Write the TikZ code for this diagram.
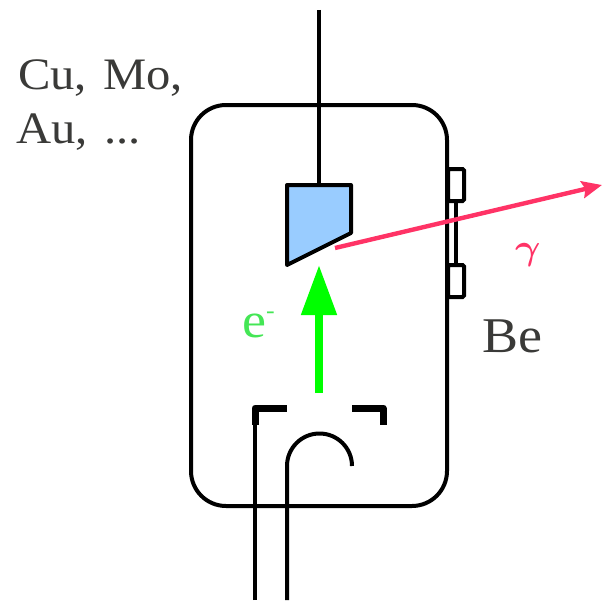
\documentclass[tikz,border=0pt]{standalone}
\usepackage{fontspec}
\setmainfont[FakeStretch=1.08,WordSpace=1.35]{Liberation Serif}
\usetikzlibrary{arrows.meta}
\definecolor{txt}{HTML}{3A3A38}
\definecolor{raypink}{HTML}{FF3366}
\definecolor{elgreen}{HTML}{44E655}
\definecolor{targetblue}{HTML}{99CCFF}
\tikzset{
  x=1pt,y=-1pt,
  wire/.style={draw=black,line width=4pt},
  thickwire/.style={draw=black,line width=7pt,line join=round},
  lab/.style={inner sep=0pt,text=txt,font=\fontsize{45}{52}\selectfont,anchor=base west},
  biglab/.style={inner sep=0pt,font=\fontsize{50}{56}\selectfont,anchor=base west},
}
\begin{document}
\begin{tikzpicture}
\useasboundingbox (0,0) rectangle (602,602);
% tube
\node[wire,rounded corners=35pt,minimum width=256pt,minimum height=401pt,inner sep=0pt,outer sep=0pt,anchor=north west] (tube) at (191,105) {};
% window
\coordinate (wa) at (456,201);
\coordinate (wb) at (456,265);
\draw[wire] (wa) -- (wb);
\node[wire,fill=white,rounded corners=1.5pt,minimum width=16pt,minimum height=32pt,inner sep=0pt,outer sep=0pt,anchor=north west] (tabtop) at (448,169) {};
\node[wire,fill=white,rounded corners=1.5pt,minimum width=16pt,minimum height=32pt,inner sep=0pt,outer sep=0pt,anchor=north west] (tabbot) at (448,265) {};
\draw[wire] (447,150) -- (447,320);
% anode
\coordinate (rodtop) at (319,10);
\coordinate (rodbot) at (319,185);
\draw[wire] (rodtop) -- (rodbot);
\draw[wire,fill=targetblue,line join=round] (287,185) -- (351,185) -- (351,233) -- (287,265) -- cycle;
% electron beam
\coordinate (ebot) at (319,393);
\coordinate (etop) at (319,265);
\draw[draw=green,line width=8pt,-{Triangle[length=50pt,width=34pt,fill=green]}] (ebot) -- (etop);
% cathode
\coordinate (ca) at (255,425);
\coordinate (cb) at (255,408);
\coordinate (cc) at (287,408);
\coordinate (cd) at (352,408);
\coordinate (ce) at (383,408);
\coordinate (cf) at (383,425);
\draw[thickwire] (ca) -- (cb) -- (cc);
\draw[thickwire] (cd) -- (ce) -- (cf);
\coordinate (wl) at (255,600);
\coordinate (wr) at (287,600);
\draw[wire] (wl) -- (ca);
\draw[wire] (wr) -- (287,466) arc[start angle=180,end angle=360,radius=32.5];
% x ray
\coordinate (rs) at (335,248);
\coordinate (re) at (602,185);
\draw[draw=raypink,line width=4.4pt,-{Stealth[length=20pt,width=17pt,inset=3pt,fill=raypink]}] (rs) -- (re);
% labels
\node[lab] (mat1) at (18,89) {Cu, Mo,};
\node[lab] (mat2) at (16,143) {Au, ...};
\node[biglab,text=txt] (be) at (482,352) {Be};
\node[biglab,text=elgreen] (el) at (242,337) {e\raisebox{19pt}{\fontsize{24}{24}\selectfont -}};
\node[inner sep=0pt,anchor=base west,text=raypink] (gam) at (515,259) {\scalebox{3.9}[3.6]{\boldmath$\gamma$}};
\end{tikzpicture}
\end{document}
